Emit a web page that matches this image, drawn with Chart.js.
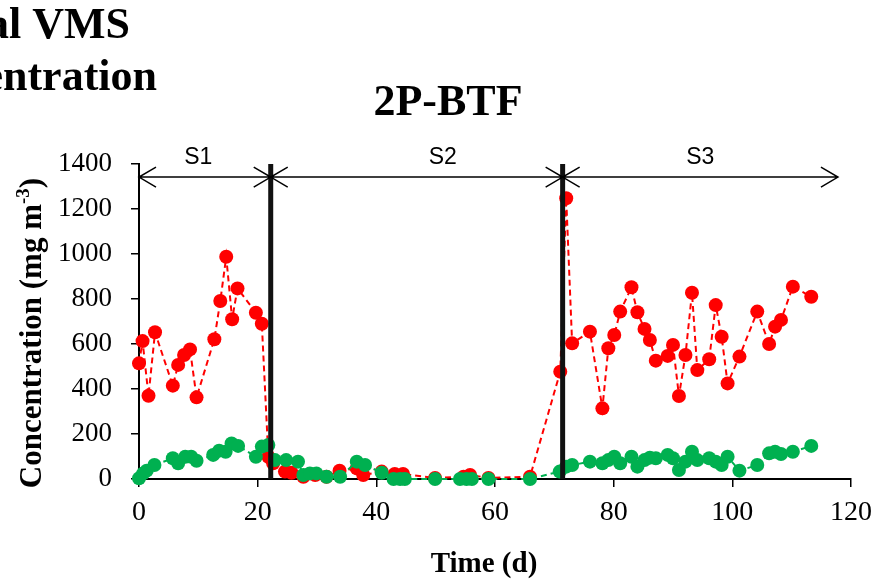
<!DOCTYPE html>
<html>
<head>
<meta charset="utf-8">
<script src="https://cdn.jsdelivr.net/npm/chart.js@4"></script>
<style>
  html, body { margin: 0; padding: 0; background: #fff; }
  #wrap { width: 881px; height: 579px; }
</style>
</head>
<body>
<div id="wrap"><canvas id="grafico" width="881" height="579"></canvas></div>
<script>
// datos
const redDays = [0, 0.6, 1.6, 2.7, 5.7, 6.6, 7.6, 8.6, 9.7, 12.7, 13.7, 14.7, 15.7, 16.6, 19.7, 20.7, 21.8, 22.6, 24.6, 25.7,
  27.7, 29.7, 31.6, 33.8, 36.7, 37.8, 40.9, 43.1, 44.5, 49.9, 54.7, 55.8, 58.9, 65.9, 71.0, 72.0, 73.0, 76.0, 78.1, 79.1,
  80.1, 81.1, 83.0, 84.0, 85.2, 86.1, 87.1, 89.1, 90.0, 91.0, 92.1, 93.2, 94.1, 96.1, 97.2, 98.2, 99.2, 101.2, 104.2,
  106.2, 107.2, 108.2, 110.2, 113.3];
const redValues = [514, 613, 370, 652, 415, 507, 551, 576, 363, 621, 791, 988, 710, 847, 739, 690, 99, 70, 33, 28,
  10, 18, 10, 37, 47, 18, 33, 22, 22, 5, 10, 18, 5, 10, 477, 1248, 603, 655, 314, 581,
  640, 744, 852, 741, 667, 618, 526, 547, 596, 369, 551, 828, 484, 532, 773, 632, 425, 544, 744,
  600, 677, 707, 855, 810];

const greenDays = [0, 0.7, 1.3, 2.6, 5.7, 6.6, 7.8, 8.8, 9.7, 12.5, 13.5, 14.6, 15.6, 16.7, 19.7, 20.7, 21.8, 22.9, 24.8, 26.8,
  27.7, 28.8, 29.9, 31.6, 33.9, 36.7, 38.1, 40.9, 42.9, 44.0, 44.8, 49.9, 54.1, 55.2, 56.1, 58.9, 65.9, 70.9, 72.0, 73.0,
  76.0, 78.1, 79.1, 80.1, 81.1, 83.0, 84.0, 85.2, 86.1, 87.1, 89.1, 90.0, 91.0, 92.1, 93.2, 94.1, 96.1, 97.2, 98.2, 99.2,
  101.2, 104.2, 106.2, 107.2, 108.2, 110.2, 113.3];
const greenValues = [3, 25, 37, 62, 92, 70, 99, 99, 81, 107, 126, 121, 158, 147, 99, 144, 151, 84, 84, 77,
  18, 25, 25, 10, 10, 77, 62, 28, 0, 0, 0, 0, 0, 0, 0, 0, 0, 33, 55, 62,
  77, 70, 84, 99, 70, 99, 55, 84, 95, 92, 107, 92, 40, 77, 121, 84, 92, 77, 62, 99,
  37, 62, 114, 121, 111, 121, 147];

// etapas S1 / S2 / S3
const stageNames = ["S1", "S2", "S3"];
const stageBounds = [0, 22.2, 71.4, 117.8];
const stageLabelAt = [10, 51.2, 94.6];
const stageDividers = [22.2, 71.4];
const arrowLevel = 1342;

const xTicks = [0, 20, 40, 60, 80, 100, 120];
const yTicks = [0, 200, 400, 600, 800, 1000, 1200, 1400];

const toPoints = (xs, ys) => xs.map((x, i) => ({ x: x, y: ys[i] }));
const SERIF = "'Liberation Serif', 'Times New Roman', serif";

// dibuja textos, flechas y lineas de etapa
const decoraciones = {
  id: "decoraciones",
  afterDatasetsDraw(chart) {
    const c = chart.ctx;
    const xs = chart.scales.x, ys = chart.scales.y;
    c.save();

    // lineas verticales gruesas
    c.strokeStyle = "#111";
    c.lineWidth = 5;
    stageDividers.forEach(d => {
      const px = xs.getPixelForValue(d);
      c.beginPath();
      c.moveTo(px, ys.getPixelForValue(1400));
      c.lineTo(px, ys.getPixelForValue(0));
      c.stroke();
    });

    // flechas dobles
    const ay = ys.getPixelForValue(arrowLevel);
    c.lineWidth = 1.5;
    c.strokeStyle = "#000";
    c.fillStyle = "#000";
    c.font = "23px 'Liberation Sans', Arial, sans-serif";
    c.textAlign = "center";
    c.textBaseline = "alphabetic";
    for (let i = 0; i < stageNames.length; i++) {
      const x1 = xs.getPixelForValue(stageBounds[i]);
      const x2 = xs.getPixelForValue(stageBounds[i + 1]);
      c.beginPath();
      c.moveTo(x1, ay); c.lineTo(x2, ay);
      c.moveTo(x1 + 17, ay - 10); c.lineTo(x1, ay); c.lineTo(x1 + 17, ay + 10);
      c.moveTo(x2 - 17, ay - 10); c.lineTo(x2, ay); c.lineTo(x2 - 17, ay + 10);
      c.stroke();
      c.fillText(stageNames[i], xs.getPixelForValue(stageLabelAt[i]), ay - 13.5);
    }
    c.restore();
  },
  afterDraw(chart) {
    const c = chart.ctx;
    c.save();
    c.fillStyle = "#000";
    c.textBaseline = "alphabetic";
    c.textAlign = "right";
    c.font = "bold 44px " + SERIF;
    c.fillText("al VMS", 130, 38);
    c.fillText("entration", 157, 90);
    c.textAlign = "center";
    c.fillText("2P-BTF", 448, 115);
    c.font = "bold 29px " + SERIF;
    c.fillText("Time (d)", 484, 572);

    // titulo del eje y con superindice
    const partA = "Concentration (mg m";
    const sup = "-3";
    const partB = ")";
    c.font = "bold 31px " + SERIF;
    const wA = c.measureText(partA).width;
    const wB = c.measureText(partB).width;
    c.font = "bold 19px " + SERIF;
    const wS = c.measureText(sup).width;
    const total = wA + wS + wB;
    c.translate(41, 333);
    c.rotate(-Math.PI / 2);
    c.textAlign = "left";
    let x0 = -total / 2;
    c.font = "bold 31px " + SERIF;
    c.fillText(partA, x0, 0);
    c.font = "bold 19px " + SERIF;
    c.fillText(sup, x0 + wA, -12);
    c.font = "bold 31px " + SERIF;
    c.fillText(partB, x0 + wA + wS, 0);
    c.restore();
  }
};

const ctx = document.getElementById("grafico").getContext("2d");
const grafico = new Chart(ctx, {
  type: "scatter",
  data: {
    datasets: [
      {
        data: toPoints(greenDays, greenValues),
        showLine: true,
        borderColor: "#00B050",
        backgroundColor: "#00B050",
        borderWidth: 2,
        borderDash: [6, 4],
        pointRadius: 7,
        pointBorderWidth: 0,
        clip: false,
        order: 1
      },
      {
        data: toPoints(redDays, redValues),
        showLine: true,
        borderColor: "#FF0000",
        backgroundColor: "#FF0000",
        borderWidth: 2,
        borderDash: [6, 4],
        pointRadius: 7,
        pointBorderWidth: 0,
        clip: false,
        order: 2
      }
    ]
  },
  options: {
    responsive: false,
    animation: false,
    layout: { padding: { left: 0, right: 30, top: 164, bottom: 0 } },
    plugins: { legend: { display: false }, tooltip: { enabled: false } },
    scales: {
      x: {
        type: "linear",
        min: 0, max: 120,
        afterBuildTicks: s => { s.ticks = xTicks.map(v => ({ value: v })); },
        afterFit: s => { s.height = 100; },
        grid: { drawOnChartArea: false, drawTicks: true, tickLength: 8, color: "#000", lineWidth: 1.5 },
        border: { color: "#000", width: 2 },
        ticks: { color: "#000", padding: 9, callback: v => String(v), font: { family: SERIF, size: 28 } }
      },
      y: {
        min: 0, max: 1400,
        afterBuildTicks: s => { s.ticks = yTicks.map(v => ({ value: v })); },
        afterFit: s => { s.width = 139; },
        grid: { drawOnChartArea: false, drawTicks: true, tickLength: 8, color: "#000", lineWidth: 1.5 },
        border: { color: "#000", width: 2 },
        ticks: { color: "#000", padding: 19, callback: v => String(v), font: { family: SERIF, size: 27 } }
      }
    }
  },
  plugins: [decoraciones]
});
</script>
</body>
</html>
